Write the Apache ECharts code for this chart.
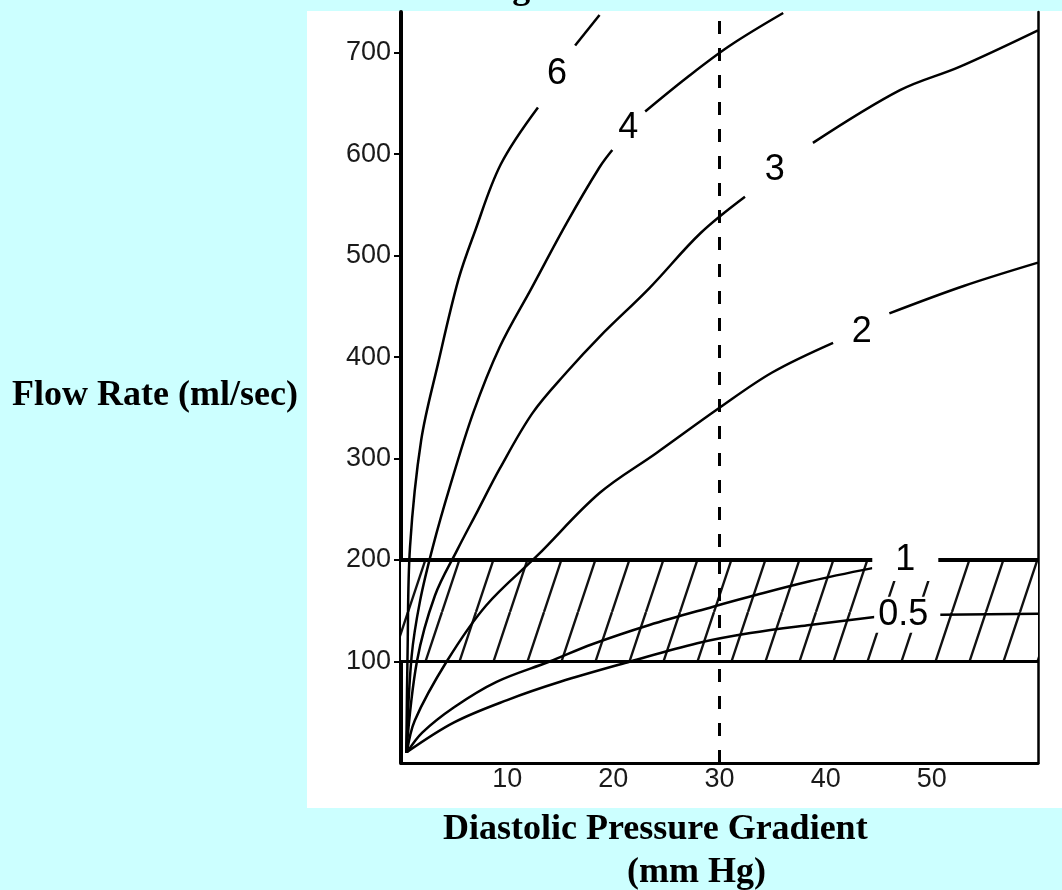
<!DOCTYPE html>
<html>
<head>
<meta charset="utf-8">
<script src="https://cdn.jsdelivr.net/npm/echarts@6/dist/echarts.min.js"></script>
<style>
html,body{margin:0;padding:0;background:#CCFFFF;}
#c{width:1062px;height:890px;}
</style>
</head>
<body>
<div id="c"></div>
<script>
// ---- data ----
const xTickLabels = [10, 20, 30, 40, 50];
const yTickLabels = [100, 200, 300, 400, 500, 600, 700];
const curveNames = ['6', '4', '3', '2', '1', '0.5'];

// each curve: list of drawn segments (gaps where labels sit)
const curve6 = [
  [[0.5,10],[0.62,110],[0.85,213],[1.9,318],[3.5,394],[5.4,476],[6.9,522],[9.4,590],[12.9,646]],
  [[16.4,707],[18.7,737]]
];
const curve4 = [
  [[0.5,10],[1.0,105],[1.8,160],[3.0,213],[4.6,272],[6.8,345],[9.3,410],[12.3,468],[15.6,532],[18.7,587],[19.9,604]],
  [[23,642],[27,676],[31,707],[36,739]]
];
const curve3 = [
  [[0.5,10],[1.5,100],[3.2,165],[5.3,210],[7.2,248],[9.3,290],[12.4,345],[15.6,385],[18.7,420],[23.4,468],[28.2,522],[32.4,558]],
  [[38.8,611],[47,663],[52.6,686],[60,722]]
];
const curve2 = [
  [[0.55,10],[1.3,42],[4.3,100],[8,155],[12.9,205],[18.7,266],[24,305],[30,350],[35,385],[40.7,414]],
  [[46,443],[53,470],[60,493]]
];
const curve1 = [
  [[0.6,11],[2,30],[5,55],[9,80],[14,100],[18,117],[23.4,136],[29.4,154],[32.9,164],[38.5,179],[44.4,192]]
];
const curve05 = [
  [[0.6,11],[5,40],[10,62],[15,80],[21.6,100],[27.9,118],[32.9,128],[38.5,136],[44.8,144]],
  [[50.8,146],[60,147]]
];
const curves = [curve6, curve4, curve3, curve2, curve1, curve05];
const labelPositions = [[14.7,679],[21.4,626],[35.2,584],[43.4,425],[47.5,200],[47.3,146]];

const normalBand = [100, 200];   // hatched flow range
const refGradient = 30;           // dashed vertical reference
const xRange = [0, 60];
const yRange = [0, 740];

// ---- hatch pattern ----
function makeHatch() {
  const w = 34, h = 102;
  const c = document.createElement('canvas');
  c.width = w; c.height = h;
  const g = c.getContext('2d');
  g.fillStyle = '#ffffff';
  g.fillRect(0, 0, w, h);
  g.strokeStyle = '#111';
  g.lineWidth = 2.4;
  for (let k = -1; k <= 1; k++) {
    g.beginPath();
    g.moveTo(k * w, h);
    g.lineTo(k * w + w, 0);
    g.stroke();
  }
  return c;
}

const chart = echarts.init(document.getElementById('c'), null, {renderer: 'canvas'});

const tickFont = {fontSize: 27, fontFamily: 'Liberation Sans', color: '#1a1a1a'};
const series = [];

series.push({
  type: 'line',
  data: [],
  silent: true,
  z: 1,
  markArea: {
    silent: true,
    itemStyle: {color: {image: makeHatch(), repeat: 'repeat'}, opacity: 1, borderWidth: 0},
    data: [[{xAxis: xRange[0], yAxis: normalBand[0]}, {xAxis: xRange[1], yAxis: normalBand[1]}]]
  },
  markLine: {
    silent: true,
    symbol: ['none', 'none'],
    label: {show: false},
    lineStyle: {color: '#000', type: 'solid', width: 3},
    data: [
      {yAxis: normalBand[0], lineStyle: {width: 3, color: '#000', type: 'solid'}},
      {yAxis: normalBand[1], lineStyle: {width: 4, color: '#000', type: 'solid'}},
      {xAxis: refGradient, lineStyle: {width: 3, color: '#000', type: [13, 14]}}
    ]
  }
});

curves.forEach((segs, ci) => {
  segs.forEach(seg => {
    series.push({
      type: 'line',
      name: curveNames[ci],
      data: seg,
      smooth: 0.35,
      showSymbol: false,
      symbol: 'none',
      silent: true,
      z: 3,
      lineStyle: {color: '#000', width: 2.5}
    });
  });
});

series.push({
  type: 'scatter',
  symbolSize: 0,
  silent: true,
  z: 10,
  itemStyle: {opacity: 1},
  data: curveNames.map((n, i) => ({
    name: n,
    value: labelPositions[i],
    label: n === '1' ? {padding: [3, 23, 3, 23]} : {}
  })),
  label: {
    show: true,
    position: 'inside',
    formatter: '{b}',
    fontSize: 36,
    fontFamily: 'Liberation Sans',
    color: '#000',
    opacity: 1,
    backgroundColor: '#ffffff',
    padding: [0, 4, 0, 4]
  }
});

const serifBold = 'bold 36px "Liberation Serif", "Times New Roman", serif';

chart.setOption({
  backgroundColor: '#CCFFFF',
  animation: false,
  grid: {left: 401, top: 12, width: 637, height: 751, containLabel: false},
  xAxis: {
    type: 'value', min: xRange[0], max: xRange[1], interval: 10,
    axisLine: {show: true, onZero: false, lineStyle: {color: '#000', width: 3}},
    axisTick: {show: false},
    splitLine: {show: false},
    axisLabel: Object.assign({customValues: xTickLabels, margin: 3}, tickFont)
  },
  yAxis: [{
    type: 'value', min: yRange[0], max: yRange[1], interval: 100,
    axisLine: {show: true, onZero: false, lineStyle: {color: '#000', width: 4}},
    axisTick: {show: true, length: 7, customValues: yTickLabels, lineStyle: {color: '#000', width: 2}},
    splitLine: {show: false},
    axisLabel: Object.assign({customValues: yTickLabels, margin: 10}, tickFont)
  }, {
    type: 'value', min: yRange[0], max: yRange[1], position: 'right',
    axisLine: {show: true, onZero: false, lineStyle: {color: '#000', width: 2.5}},
    axisTick: {show: false}, axisLabel: {show: false}, splitLine: {show: false}
  }],
  graphic: [
    {type: 'rect', z: -100, silent: true, shape: {x: 307, y: 11, width: 755, height: 797}, style: {fill: '#ffffff'}},
    {type: 'text', z: 100, silent: true, x: 531, y: -11, style: {text: 'Figure', font: serifBold, fill: '#000', align: 'center', verticalAlign: 'middle'}},
    {type: 'text', z: 100, silent: true, x: 12, y: 396, style: {text: 'Flow Rate (ml/sec)', font: serifBold, fill: '#000', align: 'left', verticalAlign: 'middle'}},
    {type: 'text', z: 100, silent: true, x: 443, y: 830, style: {text: 'Diastolic Pressure Gradient', font: serifBold, fill: '#000', align: 'left', verticalAlign: 'middle'}},
    {type: 'text', z: 100, silent: true, x: 627, y: 873, style: {text: '(mm Hg)', font: serifBold, fill: '#000', align: 'left', verticalAlign: 'middle'}}
  ],
  series: series
});
</script>
</body>
</html>
